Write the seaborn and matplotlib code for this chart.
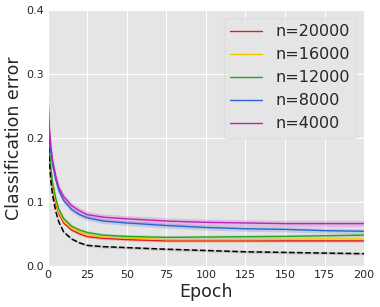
import matplotlib
matplotlib.use("Agg")
import matplotlib.pyplot as plt
import numpy as np
import pandas as pd
import seaborn as sns

# -- Data ------------------------------------------------------------------
epochs = [0, 1, 2, 3, 5, 7, 10, 15, 20, 25, 35, 50, 75, 100, 125, 150, 175, 200]

err_4000 = [0.270, 0.215, 0.185, 0.165, 0.140, 0.122, 0.108, 0.094, 0.086, 0.080,
            0.076, 0.0735, 0.070, 0.068, 0.067, 0.066, 0.066, 0.066]
err_8000 = [0.245, 0.200, 0.175, 0.158, 0.134, 0.117, 0.102, 0.088, 0.080, 0.075,
            0.070, 0.067, 0.063, 0.060, 0.058, 0.057, 0.055, 0.054]
err_12000 = [0.225, 0.180, 0.150, 0.130, 0.105, 0.088, 0.074, 0.062, 0.056, 0.052,
             0.048, 0.046, 0.0445, 0.045, 0.0455, 0.046, 0.047, 0.048]
err_16000 = [0.220, 0.175, 0.145, 0.125, 0.100, 0.084, 0.070, 0.059, 0.053, 0.049,
             0.045, 0.0435, 0.041, 0.041, 0.041, 0.0415, 0.042, 0.042]
err_20000 = [0.215, 0.170, 0.140, 0.120, 0.097, 0.081, 0.067, 0.056, 0.050, 0.0456,
             0.043, 0.041, 0.039, 0.039, 0.039, 0.039, 0.039, 0.039]
err_full = [0.210, 0.160, 0.130, 0.110, 0.085, 0.068, 0.053, 0.042, 0.036, 0.032,
            0.030, 0.0285, 0.026, 0.024, 0.022, 0.021, 0.020, 0.019]

# spread of the shaded band around each curve
spread = {"n=20000": 0.002, "n=16000": 0.002, "n=12000": 0.003,
          "n=8000": 0.004, "n=4000": 0.005}

series = {"n=20000": err_20000, "n=16000": err_16000, "n=12000": err_12000,
          "n=8000": err_8000, "n=4000": err_4000}
colors = {"n=20000": "#e41a1c", "n=16000": "#f5c400", "n=12000": "#2ca02c",
          "n=8000": "#3060d0", "n=4000": "#c020c0"}

rows = []
for name, vals in series.items():
    for e, v in zip(epochs, vals):
        rows.append({"Epoch": e, "error": v, "run": name})
df = pd.DataFrame(rows)

# -- Plot ------------------------------------------------------------------
sns.set_style("darkgrid", {"axes.facecolor": "#E5E5E5", "grid.color": "white"})
plt.rcParams["font.family"] = ["DejaVu Sans"]

fig = plt.figure(figsize=(3.8, 3.07), dpi=100)
ax = fig.add_axes([0.126, 0.134, 0.832, 0.834])

# shaded bands
for name, vals in series.items():
    v = np.array(vals)
    ax.fill_between(epochs, v - spread[name], v + spread[name],
                    color=colors[name], alpha=0.2, linewidth=0)
vf = np.array(err_full)
ax.fill_between(epochs, vf - 0.002, vf + 0.002, color="gray", alpha=0.3, linewidth=0)

sns.lineplot(data=df, x="Epoch", y="error", hue="run", palette=colors,
             linewidth=1.0, ax=ax)
ax.plot(epochs, err_full, color="black", linestyle="--", linewidth=1.1)

ax.set_xlim(0, 200)
ax.set_ylim(0, 0.4)
ax.set_xticks([0, 25, 50, 75, 100, 125, 150, 175, 200])
ax.set_yticks([0.0, 0.1, 0.2, 0.3, 0.4])
ax.tick_params(labelsize=8, length=2, pad=1)
ax.set_xlabel("Epoch", fontsize=12.5, labelpad=2)
ax.set_ylabel("Classification error", fontsize=12.5, labelpad=2)

leg = ax.legend(loc="upper right", fontsize=11.5, handlelength=2,
                labelspacing=0.5, frameon=True, facecolor="#E5E5E5",
                edgecolor="#dcdcdc", framealpha=0.8)
for line in leg.get_lines():
    line.set_linewidth(1.0)

fig.savefig("out.png", dpi=100)
